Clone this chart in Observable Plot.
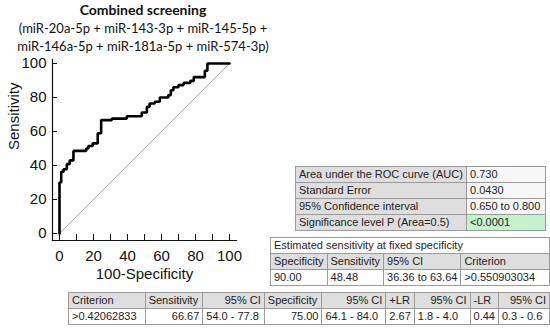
<!DOCTYPE html>
<html>
<head>
<meta charset="utf-8">
<script src="https://cdn.jsdelivr.net/npm/d3@7"></script>
<script src="https://cdn.jsdelivr.net/npm/@observablehq/plot@0.6"></script>
<style>
  html, body { margin: 0; padding: 0; background: #fff; }
  #wrap { position: relative; width: 550px; height: 329px; overflow: hidden; }
  #chart { position: absolute; left: 0; top: 0; }
  .title { position: absolute; left: 0; width: 286px; text-align: center; font-family: Lato, "Open Sans", sans-serif; color: #111; }
  table.mc { position: absolute; border-collapse: collapse; font-family: "Liberation Sans", Arial, sans-serif; font-size: 11px; color: #222; table-layout: fixed; }
  table.mc td { border: 1px solid #9a9a9a; height: 15px; padding: 0 3px; white-space: nowrap; overflow: hidden; line-height: 15px; }
  .g { background: #dedede; }
  .w { background: #fff; }
  .lv { background: #f6f6f6; }
  .green { background: #c4f2cc; }
  .r { text-align: right; }
</style>
</head>
<body>
<div id="wrap">
  <div id="chart"></div>
</div>
<script>
// ---- data ----
const titleText = "Combined screening";
const subtitleLines = ["(miR-20a-5p + miR-143-3p + miR-145-5p +", "miR-146a-5p + miR-181a-5p + miR-574-3p)"];
const xLabel = "100-Specificity";
const yLabel = "Sensitivity";
const xTicks = [0, 10, 20, 30, 40, 50, 60, 70, 80, 90, 100];
const xTickLabels = [0, 20, 40, 60, 80, 100];
const yTicks = [0, 20, 40, 60, 80, 100];
const diagonal = [0, 100];
// ROC step curve (100-Specificity, Sensitivity)
const rocX = [0, 0, 1, 2.4, 4.3, 6, 8.2, 15.7, 17, 19.5, 22.5, 24.5, 30.8, 39.6, 48.4, 51.4, 53, 56, 59, 64, 65.5, 67, 70, 73, 77, 79, 85.5, 87, 100];
const rocY = [0, 30, 36.3, 37.8, 40.8, 43, 48.6, 50, 51.5, 53, 59, 66.7, 67.6, 69, 71.2, 74.5, 76.5, 77.5, 80, 81.4, 84.3, 86, 87.3, 88.6, 89.8, 92, 95.7, 100, 100];

const aucLabels = ["Area under the ROC curve (AUC)", "Standard Error", "95% Confidence interval", "Significance level P (Area=0.5)"];
const aucValues = ["0.730", "0.0430", "0.650 to 0.800", "<0.0001"];

const fixedTitle = "Estimated sensitivity at fixed specificity";
const fixedHeader = ["Specificity", "Sensitivity", "95% CI", "Criterion"];
const fixedRow = ["90.00", "48.48", "36.36 to 63.64", ">0.550903034"];

const critHeader = ["Criterion", "Sensitivity", "95% CI", "Specificity", "95% CI", "+LR", "95% CI", "-LR", "95% CI"];
const critRow = [">0.42062833", "66.67", "54.0 - 77.8", "75.00", "64.1 - 84.0", "2.67", "1.8 - 4.0", "0.44", "0.3 - 0.6"];

// ---- chart ----
const roc = rocX.map((x, i) => ({x, y: rocY[i]}));
const chart = Plot.plot({
  width: 550,
  height: 329,
  marginLeft: 52,
  marginRight: 314,
  marginTop: 59,
  marginBottom: 89,
  x: {domain: [0, 100], range: [59, 229]},
  y: {domain: [0, 100], range: [233, 63]},
  style: {fontFamily: "'Liberation Sans', Arial, sans-serif", fontSize: "15px", color: "#111", background: "transparent"},
  marks: [
    Plot.frame({anchor: "bottom", stroke: "#111", strokeWidth: 1.2}),
    Plot.frame({anchor: "left", stroke: "#111", strokeWidth: 1.2}),
    Plot.ruleX(xTicks, {x: d => d, insetTop: 175, stroke: "#111", strokeWidth: 1}),
    Plot.ruleY(yTicks, {y: d => d, insetRight: 179, stroke: "#111", strokeWidth: 1}),
    Plot.axisX({ticks: xTickLabels, tickSize: 0, tickPadding: 10, fontSize: 15, label: null, tickFormat: d => String(d)}),
    Plot.axisY({ticks: yTicks, tickSize: 0, tickPadding: 6, fontSize: 15, label: null, tickFormat: d => String(d)}),
    Plot.line(diagonal.map(d => ({x: d, y: d})), {x: "x", y: "y", stroke: "#a0a0a0", strokeWidth: 0.9}),
    Plot.line(roc, {x: "x", y: "y", curve: "step-after", stroke: "#000", strokeWidth: 2.6, strokeLinejoin: "miter"}),
    Plot.text([yLabel], {frameAnchor: "left", rotate: -90, dx: -38, fontSize: 15, fill: "#111"}),
    Plot.text([xLabel], {frameAnchor: "bottom", dy: 38, fontSize: 15, fill: "#111"})
  ]
});
document.getElementById("chart").appendChild(chart);

const wrap = document.getElementById("wrap");
function addDiv(cls, text, top, size, weight) {
  const d = document.createElement("div");
  d.className = cls;
  d.textContent = text;
  d.style.top = top + "px";
  d.style.fontSize = size + "px";
  d.style.fontWeight = weight;
  d.style.lineHeight = "18px";
  wrap.appendChild(d);
}
addDiv("title", titleText, 1, 14, 700);
subtitleLines.forEach((t, i) => addDiv("title", t, 19 + i * 18, 13, 400));

function makeTable(left, top, widths) {
  const t = document.createElement("table");
  t.className = "mc";
  t.style.left = left + "px";
  t.style.top = top + "px";
  const cg = document.createElement("colgroup");
  widths.forEach(w => { const c = document.createElement("col"); c.style.width = w + "px"; cg.appendChild(c); });
  t.appendChild(cg);
  wrap.appendChild(t);
  return t;
}
function addRow(t, cells, classes, aligns, spans) {
  const tr = document.createElement("tr");
  cells.forEach((c, i) => {
    const td = document.createElement("td");
    td.textContent = c;
    td.className = (classes[i] || "") + (aligns && aligns[i] === "r" ? " r" : "");
    if (spans && spans[i]) td.colSpan = spans[i];
    tr.appendChild(td);
  });
  t.appendChild(tr);
}

// Table 1: AUC
const t1 = makeTable(295, 166, [171, 79]);
aucLabels.forEach((l, i) => addRow(t1, [l, aucValues[i]], ["g", i === aucValues.length - 1 ? "green" : "lv"]));

// Table 2: fixed specificity
const t2 = makeTable(270, 237, [48, 45, 70, 112]);
addRow(t2, [fixedTitle], ["w"], null, [4]);
addRow(t2, fixedHeader, ["g", "g", "g", "g"]);
addRow(t2, fixedRow, ["w", "w", "w", "w"]);

// Table 3: criterion
const t3 = makeTable(68, 292, [78, 58, 62, 58, 65, 28, 58, 21, 52]);
addRow(t3, critHeader, Array(9).fill("g"), ["l", "l", "r", "l", "r", "l", "r", "l", "r"]);
addRow(t3, critRow, Array(9).fill("w"), ["l", "r", "l", "r", "l", "l", "l", "l", "l"]);
</script>
</body>
</html>
